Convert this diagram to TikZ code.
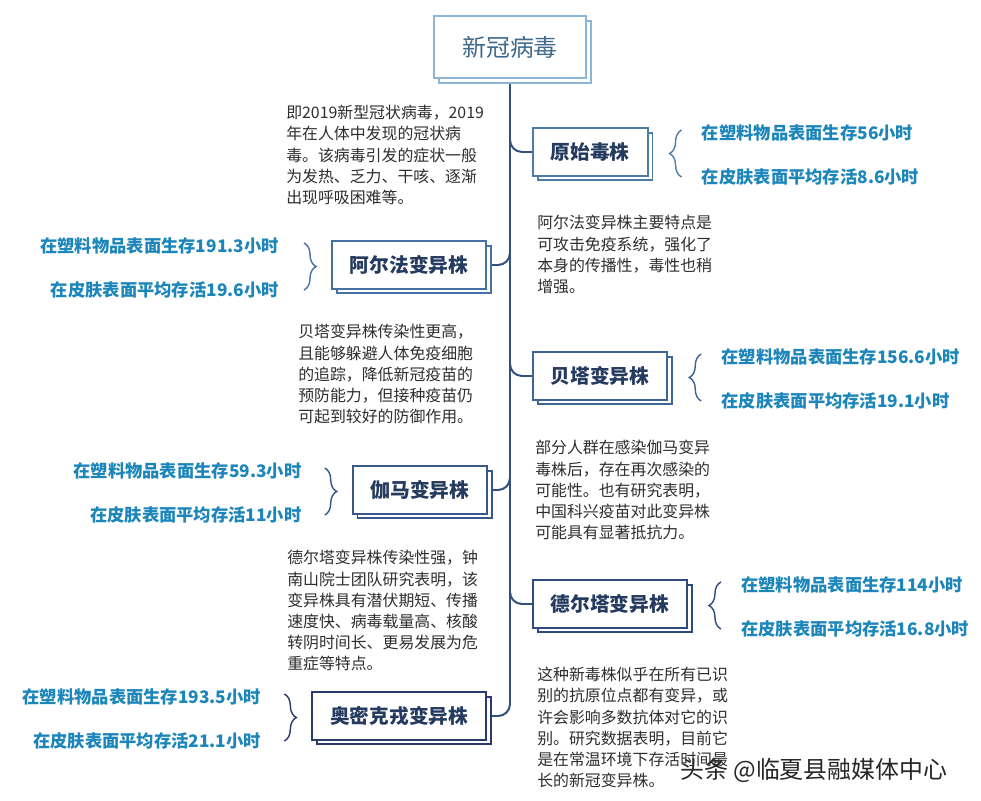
\documentclass[tikz,border=0pt]{standalone}
\usepackage{fontspec}
\setmainfont{Noto Sans CJK SC}
\usepackage{xcolor}
\usetikzlibrary{arrows.meta,calc,shadows,backgrounds,decorations.pathreplacing}

\definecolor{trunkblue}{HTML}{34507E}
\definecolor{titleblue}{HTML}{8DB6D6}
\definecolor{titletext}{HTML}{3F6A8C}
\definecolor{boxtext}{HTML}{243A5E}
\definecolor{statblue}{HTML}{1C86BA}
\definecolor{notegray}{HTML}{2E2E2E}
\definecolor{cyuan}{HTML}{4D7CA6}
\definecolor{calpha}{HTML}{4671A0}
\definecolor{cbeta}{HTML}{3E6594}
\definecolor{cgamma}{HTML}{37588A}
\definecolor{cdelta}{HTML}{2F4B7E}
\definecolor{comicron}{HTML}{2A3A6C}

\begin{document}
\begin{tikzpicture}[x=0.025cm,y=-0.025cm,
  strain/.style={rectangle,draw=#1,line width=1.3pt,fill=white,inner xsep=0.45cm,
    minimum height=1.18cm,text=boxtext,font=\fontsize{14}{16}\selectfont\bfseries,
    copy shadow={shadow xshift=1.2mm,shadow yshift=-1.2mm}},
  link/.style={trunkblue,line width=1.4pt,rounded corners=0.3cm},
  brc/.style={#1,line width=1pt,decorate,decoration={brace,amplitude=0.3cm}},
  stat/.style={inner sep=0,text=statblue,font=\fontsize{12.3}{14}\selectfont\bfseries},
  note/.style={inner sep=0,anchor=north west,align=left,text=notegray,
    font=\fontsize{11.3}{15.1}\selectfont}]
  \useasboundingbox (0,0) rectangle (981,801);

  % root
  \node[rectangle,draw=titleblue,line width=1.4pt,fill=white,minimum width=3.8cm,
    minimum height=1.55cm,text=titletext,font=\fontsize{17}{20}\selectfont,
    copy shadow={shadow xshift=1.2mm,shadow yshift=-1.2mm}] (root) at (510,47) {新冠病毒};

  % strains
  \node[strain=cyuan,anchor=west] (yuanshi) at (532,152) {原始毒株};
  \node[strain=calpha,anchor=east] (alpha) at (487,265) {阿尔法变异株};
  \node[strain=cbeta,anchor=west] (beta) at (532,376) {贝塔变异株};
  \node[strain=cgamma,anchor=east] (gamma) at (488,490) {伽马变异株};
  \node[strain=cdelta,anchor=west] (delta) at (532,604) {德尔塔变异株};
  \node[strain=comicron,anchor=east] (omicron) at (487,716) {奥密克戎变异株};

  % survival times
  \node[stat,anchor=west] (yuanshi-a) at ($(yuanshi.east)+(53,-19)$) {在塑料物品表面生存56小时};
  \node[stat,anchor=west] (yuanshi-b) at ($(yuanshi.east)+(53,25)$) {在皮肤表面平均存活8.6小时};
  \node[stat,anchor=east] (alpha-a) at ($(alpha.west)+(-52,-19)$) {在塑料物品表面生存191.3小时};
  \node[stat,anchor=east] (alpha-b) at ($(alpha.west)+(-52,25)$) {在皮肤表面平均存活19.6小时};
  \node[stat,anchor=west] (beta-a) at ($(beta.east)+(53,-19)$) {在塑料物品表面生存156.6小时};
  \node[stat,anchor=west] (beta-b) at ($(beta.east)+(53,25)$) {在皮肤表面平均存活19.1小时};
  \node[stat,anchor=east] (gamma-a) at ($(gamma.west)+(-50,-19)$) {在塑料物品表面生存59.3小时};
  \node[stat,anchor=east] (gamma-b) at ($(gamma.west)+(-50,25)$) {在皮肤表面平均存活11小时};
  \node[stat,anchor=west] (delta-a) at ($(delta.east)+(53,-19)$) {在塑料物品表面生存114小时};
  \node[stat,anchor=west] (delta-b) at ($(delta.east)+(53,25)$) {在皮肤表面平均存活16.8小时};
  \node[stat,anchor=east] (omicron-a) at ($(omicron.west)+(-50,-19)$) {在塑料物品表面生存193.5小时};
  \node[stat,anchor=east] (omicron-b) at ($(omicron.west)+(-50,25)$) {在皮肤表面平均存活21.1小时};

  % braces
  \draw[brc=cyuan] ($(yuanshi.east)+(33,25)$) -- ($(yuanshi.east)+(33,-22)$);
  \draw[brc=calpha] ($(alpha.west)+(-27,-22)$) -- ($(alpha.west)+(-27,25)$);
  \draw[brc=cbeta] ($(beta.east)+(33,25)$) -- ($(beta.east)+(33,-22)$);
  \draw[brc=cgamma] ($(gamma.west)+(-27,-22)$) -- ($(gamma.west)+(-27,25)$);
  \draw[brc=cdelta] ($(delta.east)+(33,25)$) -- ($(delta.east)+(33,-22)$);
  \draw[brc=comicron] ($(omicron.west)+(-27,-22)$) -- ($(omicron.west)+(-27,25)$);

  % notes
  \node[note] (n-root) at (286,105) {即2019新型冠状病毒，2019\\年在人体中发现的冠状病\\毒。该病毒引发的症状一般\\为发热、乏力、干咳、逐渐\\出现呼吸困难等。};
  \node[note] (n-alpha) at (537,215) {阿尔法变异株主要特点是\\可攻击免疫系统，强化了\\本身的传播性，毒性也稍\\增强。};
  \node[note] (n-beta) at (298,324) {贝塔变异株传染性更高，\\且能够躲避人体免疫细胞\\的追踪，降低新冠疫苗的\\预防能力，但接种疫苗仍\\可起到较好的防御作用。};
  \node[note] (n-gamma) at (535,440) {部分人群在感染伽马变异\\毒株后，存在再次感染的\\可能性。也有研究表明，\\中国科兴疫苗对此变异株\\可能具有显著抵抗力。};
  \node[note] (n-delta) at (287,550) {德尔塔变异株传染性强，钟\\南山院士团队研究表明，该\\变异株具有潜伏期短、传播\\速度快、病毒载量高、核酸\\转阴时间长、更易发展为危\\重症等特点。};
  \node[note] (n-omicron) at (537,667) {这种新毒株似乎在所有已识\\别的抗原位点都有变异，或\\许会影响多数抗体对它的识\\别。研究数据表明，目前它\\是在常温环境下存活时间最\\长的新冠变异株。};

  % watermark
  \node[inner sep=0,anchor=west,text=black!85,font=\fontsize{17}{20}\selectfont] (wm) at (680,770) {头条 @临夏县融媒体中心};

  % tree lines
  \begin{scope}[on background layer]
    \fill[white] (0,0) rectangle (981,801);
    \draw[link] (root.south) |- (omicron.east);
    \draw[link] ($(root.south |- yuanshi.west)+(0,-12)$) |- (yuanshi.west);
    \draw[link] ($(root.south |- alpha.east)+(0,-12)$) |- (alpha.east);
    \draw[link] ($(root.south |- beta.west)+(0,-12)$) |- (beta.west);
    \draw[link] ($(root.south |- gamma.east)+(0,-12)$) |- (gamma.east);
    \draw[link] ($(root.south |- delta.west)+(0,-12)$) |- (delta.west);
  \end{scope}
\end{tikzpicture}
\end{document}
